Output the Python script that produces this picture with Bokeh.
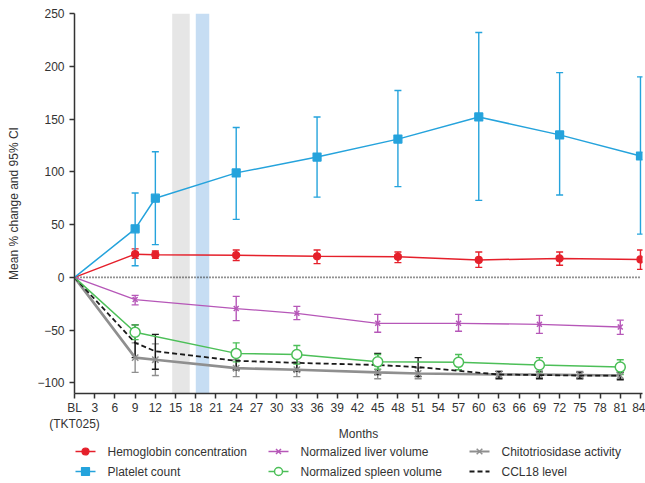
from bokeh.plotting import figure
from bokeh.layouts import column
from bokeh.models import (ColumnDataSource, Whisker, TeeHead, FixedTicker,
                          BoxAnnotation, Range1d)
from bokeh.core.properties import value
from bokeh.embed import file_html
from bokeh.resources import INLINE

# ---------------- data ----------------
month_ticks = list(range(0, 85, 3))
tick_labels = ["BL\n(TKT025)"] + [str(m) for m in month_ticks[1:]]
y_ticks = [-100, -50, 0, 50, 100, 150, 200, 250]
y_tick_labels = ["\u2212100", "\u221250", "0", "50", "100", "150", "200", "250"]

band_left = [14.5, 18.0]
band_right = [17.1, 20.0]
band_colors = ["#e6e6e6", "#c6ddf3"]

zero_x = [0, 84]
zero_y = [0, 0]

plt_m = [0, 9, 12, 24, 36, 48, 60, 72, 84]
plt_v = [0, 46, 75, 99, 114, 131, 152, 135, 115]
plt_lo = [0, 11, 31, 55, 76, 86, 73, 78, 41]
plt_hi = [0, 80, 119, 142, 152, 177, 232, 194, 190]

hgb_m = [0, 9, 12, 24, 36, 48, 60, 72, 84]
hgb_v = [0, 22, 21.5, 21, 20, 19.5, 16.5, 18, 17]
hgb_lo = [0, 18, 18, 16, 13, 14, 9.5, 11.5, 7.6]
hgb_hi = [0, 27, 25, 26, 26, 24, 24, 24, 26]

liv_m = [0, 9, 24, 33, 45, 57, 69, 81]
liv_v = [0, -21, -29.5, -34, -43.5, -43.5, -44.5, -47]
liv_lo = [0, -26, -41, -40, -52, -51, -53, -54]
liv_hi = [0, -17, -18, -27.5, -35, -35, -36, -40.5]

spl_m = [0, 9, 24, 33, 45, 57, 69, 81]
spl_v = [0, -52, -72, -73, -80, -80.5, -83, -85]
spl_lo = [0, -59, -80, -82, -87, -87.5, -90, -92]
spl_hi = [0, -45, -62, -64.5, -73, -73, -76, -78]

chi_m = [0, 9, 12, 24, 33, 45, 51, 63, 69, 75, 81]
chi_v = [0, -76, -78, -86, -87.5, -90, -91, -92, -92, -92.5, -93]
chi_lo = [0, -90, -93, -94, -94, -96, -96, -95, -95, -95, -96]
chi_hi = [0, -62, -63, -78, -80, -84, -86, -89, -89, -89, -90]

ccl_m = [0, 9, 12, 24, 33, 45, 51, 63, 69, 75, 81]
ccl_v = [0, -62, -70, -79, -81, -83, -85, -92, -92.5, -93, -93]
ccl_lo = [0, -76, -87, -87.5, -89, -92, -94, -96, -96, -96, -97]
ccl_hi = [0, -45, -54, -71, -72, -72, -76, -89, -89, -90, -90]

legend_labels = ["Hemoglobin concentration", "Platelet count",
                 "Normalized liver volume", "Normalized spleen volume",
                 "Chitotriosidase activity", "CCL18 level"]
legend_keys = ["hgb", "plt", "liv", "spl", "chi", "ccl"]

FONT = "Liberation Sans"
TXT = "#333333"

# style per series: color, line width, marker, marker size, fill, dash, marker line width
styles = {
    "chi": ("#8f8f8f", 2.6, "x", 9, "#8f8f8f", "solid", 1.5),
    "ccl": ("#1a1a1a", 1.8, None, 0, None, "5 3", 1.2),
    "spl": ("#4cbf58", 1.5, "circle", 10, "white", "solid", 1.5),
    "liv": ("#b657b8", 1.3, "x", 7, "#b657b8", "solid", 1.5),
    "hgb": ("#e5202b", 1.5, "circle", 7, "#e5202b", "solid", 1.2),
    "plt": ("#25a3dc", 1.5, "square", 8, "#25a3dc", "solid", 1.2),
}

W = 645
P_H = 444
Q_H = 483 - P_H
LEFT = 74
RIGHT = 3

p = figure(width=W, height=P_H, x_range=(0, 84.3), y_range=(-110, 250),
           output_backend="svg", toolbar_location=None,
           min_border_left=LEFT, min_border_right=RIGHT, min_border_top=13,
           min_border_bottom=50)
p.grid.visible = False
p.outline_line_color = None

for l, r, c in zip(band_left, band_right, band_colors):
    p.add_layout(BoxAnnotation(left=l, right=r, fill_color=c, fill_alpha=1.0,
                               line_color=None, level="underlay"))

p.line(zero_x, zero_y, line_color="#222222", line_width=1.6, line_dash="1 2")


def series(key, m, v, lo, hi):
    color, lw, marker, msize, fill, dash, mlw = styles[key]
    src = ColumnDataSource(dict(x=m, y=v))
    wsrc = ColumnDataSource(dict(x=m[1:], lo=lo[1:], hi=hi[1:]))
    p.line("x", "y", source=src, line_color=color, line_width=lw, line_dash=dash)
    w = Whisker(source=wsrc, base="x", upper="hi", lower="lo",
                line_color=color, line_width=1.4,
                upper_head=TeeHead(size=7, line_color=color, line_width=1.4),
                lower_head=TeeHead(size=7, line_color=color, line_width=1.4))
    p.add_layout(w)
    if marker is not None:
        msrc = ColumnDataSource(dict(x=m[1:], y=v[1:]))
        p.scatter("x", "y", source=msrc, marker=marker, size=msize,
                  line_color=color, fill_color=fill, line_width=mlw)


series("chi", chi_m, chi_v, chi_lo, chi_hi)
series("ccl", ccl_m, ccl_v, ccl_lo, ccl_hi)
series("spl", spl_m, spl_v, spl_lo, spl_hi)
series("liv", liv_m, liv_v, liv_lo, liv_hi)
series("hgb", hgb_m, hgb_v, hgb_lo, hgb_hi)
series("plt", plt_m, plt_v, plt_lo, plt_hi)

# axes
for ax in (p.xaxis[0], p.yaxis[0]):
    ax.axis_line_color = TXT
    ax.axis_line_width = 1.5
    ax.major_tick_line_color = TXT
    ax.major_tick_line_width = 1.5
    ax.major_tick_out = 5
    ax.major_tick_in = 0
    ax.minor_tick_line_color = None
    ax.major_label_text_font = FONT
    ax.major_label_text_font_size = "12px"
    ax.major_label_text_color = TXT
    ax.axis_label_text_font = FONT
    ax.axis_label_text_font_size = "12px"
    ax.axis_label_text_color = TXT
    ax.axis_label_text_font_style = "normal"

p.xaxis[0].ticker = FixedTicker(ticks=month_ticks)
p.xaxis[0].major_label_overrides = {m: t for m, t in zip(month_ticks, tick_labels)}
p.xaxis[0].axis_label = "Months"
p.xaxis[0].axis_label_standoff = -7
p.xaxis[0].major_label_standoff = 2

p.yaxis[0].ticker = FixedTicker(ticks=y_ticks)
p.yaxis[0].major_label_overrides = {t: s for t, s in zip(y_ticks, y_tick_labels)}
p.yaxis[0].axis_label = "Mean % change and 95% CI"
p.yaxis[0].axis_label_standoff = 13

# ---------------- legend panel (drawn below the plot) ----------------
# the column layout aligns this panel's frame with the plot frame, so its
# x range is expressed in page pixels spanning that frame
q = figure(width=W, height=Q_H, x_range=Range1d(LEFT, W - RIGHT),
           y_range=Range1d(0, Q_H),
           x_axis_type=None, y_axis_type=None, output_backend="svg",
           toolbar_location=None, min_border_left=LEFT, min_border_right=RIGHT,
           min_border_top=0, min_border_bottom=0)
q.outline_line_color = None
q.grid.visible = False

col_x = [75, 268, 469]          # left edge of each legend column's glyph
row_y = [Q_H - 7, Q_H - 27]     # centre of each legend row
glyph_len = 20
text_gap = 32

for i, (lab, key) in enumerate(zip(legend_labels, legend_keys)):
    color, lw, marker, msize, fill, dash, mlw = styles[key]
    x0 = col_x[i // 2]
    yy = row_y[i % 2]
    q.line([x0, x0 + glyph_len], [yy, yy], line_color=color,
           line_width=min(lw, 1.8), line_dash=dash)
    if marker is not None:
        q.scatter([x0 + glyph_len / 2], [yy], marker=marker, size=min(msize, 8),
                  line_color=color, fill_color=fill, line_width=mlw)
    q.text([x0 + text_gap], [yy], text=[lab], text_font=value(FONT),
           text_font_size="12px", text_color=TXT, text_baseline="middle",
           text_align="left")

layout = column(p, q, spacing=0)
open("out.html", "w").write(file_html(layout, INLINE))
